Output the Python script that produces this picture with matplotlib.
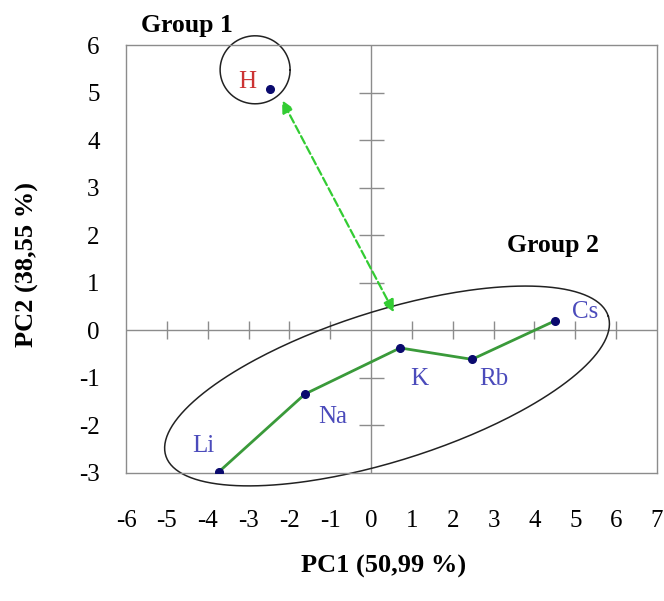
import numpy as np
import matplotlib.pyplot as plt

plt.rcParams['font.family'] = ['Liberation Serif', 'DejaVu Serif']
plt.rcParams['axes.unicode_minus'] = False

# data
elements = ['H', 'Li', 'Na', 'K', 'Rb', 'Cs']
pc1 = [-2.47, -3.72, -1.62, 0.71, 2.47, 4.5]
pc2 = [5.07, -2.97, -1.34, -0.37, -0.61, 0.2]
label_colors = ['#cc3333', '#4b4bbb', '#4b4bbb', '#4b4bbb', '#4b4bbb', '#4b4bbb']
label_offsets = [(-23, 7), (-16, 26), (28, -23), (19, -31), (22, -20), (30, 9)]  # pixels

xticks = np.arange(-6, 8)
yticks = np.arange(-3, 7)

fig = plt.figure(figsize=(6.64, 6.01), dpi=100)
ax = fig.add_axes([0.1898, 0.213, 0.7997, 0.712])
ax.set_xlim(-6, 7)
ax.set_ylim(-3, 6)

for s in ax.spines.values():
    s.set_color('#8c8c8c')
    s.set_linewidth(1.0)

ax.set_xticks(xticks)
ax.set_yticks(yticks)
ax.tick_params(length=0, labelsize=18)
ax.tick_params(axis='x', pad=27)
ax.tick_params(axis='y', pad=19)

# cross axes through origin with their tick marks
ax.axhline(0, color='#8c8c8c', lw=1.0, zorder=1)
ax.axvline(0, color='#8c8c8c', lw=1.0, zorder=1)
xt = xticks[(xticks != 0) & (xticks > -6) & (xticks < 7)]
yt = yticks[(yticks != 0) & (yticks > -3) & (yticks < 6)]
ax.plot(xt, np.zeros(len(xt)), ls='none', marker='|', ms=13, mew=1.0, color='#8c8c8c', zorder=1)
ax.plot(np.zeros(len(yt)), yt, ls='none', marker='_', ms=18, mew=1.0, color='#8c8c8c', zorder=1)

# group 2 connecting line
ax.plot(pc1[1:], pc2[1:], color='#3a9a3a', lw=2, zorder=3)
ax.plot(pc1, pc2, ls='none', marker='o', ms=5.5, color='#0a0a6e', zorder=4)

for name, x, y, c, off in zip(elements, pc1, pc2, label_colors, label_offsets):
    ax.annotate(name, (x, y), xytext=(off[0] * 0.72, off[1] * 0.72), textcoords='offset points',
                ha='center', va='center', color=c, fontsize=18)

# group outlines, drawn in screen-proportional shape
fig.canvas.draw()
bb = ax.get_window_extent()
kx = 13 / bb.width
ky = 9 / bb.height
t = np.linspace(0, 2 * np.pi, 300)

def outline(cx, cy, a, b, ang):
    th = np.deg2rad(ang)
    px = a * np.cos(t) * np.cos(th) - b * np.sin(t) * np.sin(th)
    py = a * np.cos(t) * np.sin(th) + b * np.sin(t) * np.cos(th)
    ax.plot(cx + px * kx, cy + py * ky, color='#222222', lw=1.1, zorder=2, clip_on=False)

outline(-2.84, 5.48, 35, 34, 0)
outline(0.39, -1.17, 232, 75, 17.5)

# arrow between groups
ax.annotate('', xy=(-2.18, 4.84), xytext=(0.56, 0.38),
            arrowprops=dict(arrowstyle='<|-|>', color='#33cc33', lw=1.6, ls='--',
                            mutation_scale=18, shrinkA=0, shrinkB=0), zorder=5)

ax.text(-4.51, 6.41, 'Group 1', ha='center', va='center', fontsize=18.5, fontweight='bold')
ax.text(4.45, 1.79, 'Group 2', ha='center', va='center', fontsize=18.5, fontweight='bold')

fig.text(384 / 664, 1 - 566 / 601, 'PC1 (50,99 %)', ha='center', va='center', fontsize=19, fontweight='bold')
fig.text(27 / 664, 1 - 264 / 601, 'PC2 (38,55 %)', ha='center', va='center', fontsize=19,
         fontweight='bold', rotation=90)

fig.savefig('out.png', dpi=100)
